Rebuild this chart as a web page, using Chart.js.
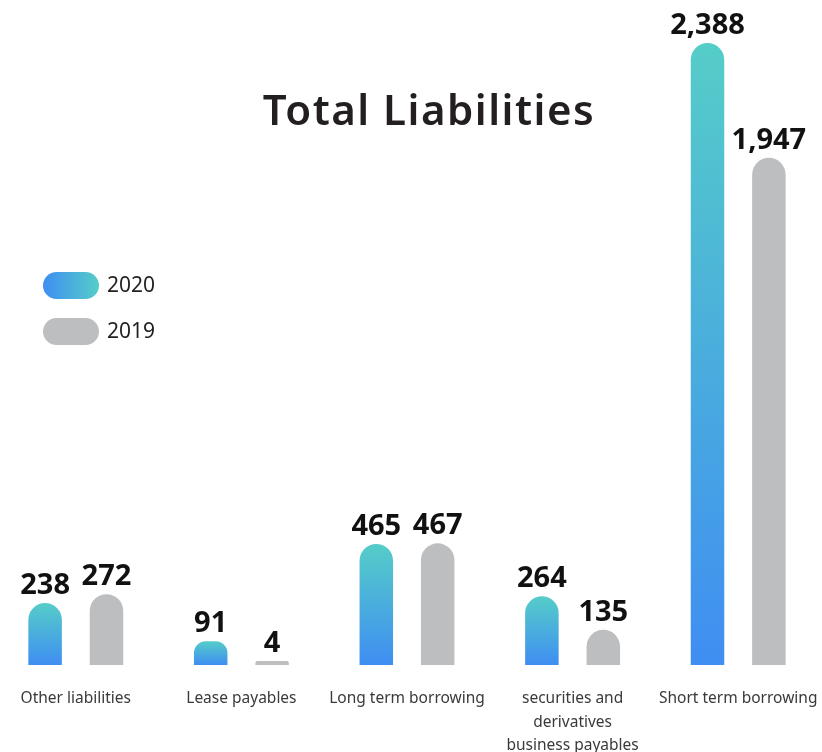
<!DOCTYPE html>
<html>
<head>
<meta charset="utf-8">
<script src="https://cdn.jsdelivr.net/npm/chart.js@4.4.0/dist/chart.umd.min.js"></script>
<style>
  html, body { margin: 0; padding: 0; background: #ffffff; overflow: hidden; width: 822px; height: 752px; }
  #wrap { position: absolute; left: -7px; top: 0; width: 828px; height: 752px; }
</style>
</head>
<body>
<div id="wrap"><canvas id="c" width="828" height="752"></canvas></div>
<script>
const chartTitle = "Total Liabilities";
const categories = [
  ["Other liabilities"],
  ["Lease payables"],
  ["Long term borrowing"],
  ["securities and", "derivatives", "business payables"],
  ["Short term borrowing"]
];
const seriesNames = ["2020", "2019"];
const values2020 = [238, 91, 465, 264, 2388];
const values2019 = [272, 4, 467, 135, 1947];

const OFFSET = 7; // canvas shifted left by 7px
const BLUE = "#3f8ef2";
const TEAL = "#55cdc8";
const GRAY = "#bdbec0";

function barGradient(ctx) {
  const chart = ctx.chart;
  if (!chart.chartArea || !chart.scales.y || ctx.raw === undefined) return BLUE;
  const y = chart.scales.y;
  const top = y.getPixelForValue(ctx.raw);
  const bottom = y.getPixelForValue(0);
  if (!isFinite(top) || !isFinite(bottom) || top === bottom) return BLUE;
  const g = chart.ctx.createLinearGradient(0, bottom, 0, top);
  g.addColorStop(0, BLUE);
  g.addColorStop(1, TEAL);
  return g;
}

const overlayPlugin = {
  id: "overlay",
  afterDatasetsDraw(chart) {
    const ctx = chart.ctx;
    ctx.save();
    // value labels
    ctx.fillStyle = "#111111";
    ctx.font = "bold 29px 'Noto Sans', 'DejaVu Sans', sans-serif";
    ctx.textAlign = "center";
    ctx.textBaseline = "alphabetic";
    chart.data.datasets.forEach((ds, di) => {
      const meta = chart.getDatasetMeta(di);
      meta.data.forEach((el, i) => {
        const v = ds.data[i];
        ctx.fillText(v.toLocaleString("en-US"), el.x, el.y - 9);
      });
    });
    // title
    ctx.fillStyle = "#231f20";
    ctx.font = "600 42px 'Noto Sans', sans-serif";
    ctx.textAlign = "center";
    try { ctx.letterSpacing = "1.5px"; } catch (e) {}
    ctx.fillText(chartTitle, 429 + OFFSET, 125);
    try { ctx.letterSpacing = "0px"; } catch (e) {}
    // legend
    const items = [
      { label: seriesNames[0], y: 272, grad: true },
      { label: seriesNames[1], y: 318, grad: false }
    ];
    items.forEach(it => {
      const x = 43 + OFFSET, w = 56, h = 27;
      let fill;
      if (it.grad) {
        fill = ctx.createLinearGradient(x, 0, x + w, 0);
        fill.addColorStop(0, BLUE);
        fill.addColorStop(1, TEAL);
      } else fill = GRAY;
      ctx.fillStyle = fill;
      ctx.beginPath();
      ctx.roundRect(x, it.y, w, h, h / 2);
      ctx.fill();
      ctx.fillStyle = "#231f20";
      ctx.font = "21px 'Noto Sans', sans-serif";
      ctx.textAlign = "left";
      ctx.textBaseline = "middle";
      ctx.fillText(it.label, 107 + OFFSET, it.y + h / 2 + 1);
    });
    ctx.restore();
  }
};

new Chart(document.getElementById("c"), {
  type: "bar",
  data: {
    labels: categories,
    datasets: [
      {
        label: seriesNames[0],
        data: values2020,
        backgroundColor: barGradient,
        borderRadius: { topLeft: 17, topRight: 17, bottomLeft: 0, bottomRight: 0 },
        borderSkipped: "bottom",
        categoryPercentage: 0.7415,
        barPercentage: 0.5456
      },
      {
        label: seriesNames[1],
        data: values2019,
        backgroundColor: GRAY,
        borderRadius: { topLeft: 17, topRight: 17, bottomLeft: 0, bottomRight: 0 },
        borderSkipped: "bottom",
        minBarLength: 4,
        categoryPercentage: 0.7415,
        barPercentage: 0.5456
      }
    ]
  },
  options: {
    responsive: false,
    animation: false,
    layout: { padding: 0 },
    plugins: {
      legend: { display: false },
      title: { display: false },
      tooltip: { enabled: false }
    },
    scales: {
      x: {
        grid: { display: false, drawTicks: false },
        border: { display: false },
        ticks: {
          color: "#3a3a3a",
          font: { family: "'Noto Sans', sans-serif", size: 15.5, lineHeight: 1.52 },
          padding: 22,
          maxRotation: 0,
          autoSkip: false
        },
        afterFit(scale) {
          scale.height = 87;
          scale.paddingLeft = 0;
          scale.paddingRight = 0;
        }
      },
      y: {
        display: false,
        min: 0,
        max: 2553
      }
    }
  },
  plugins: [overlayPlugin]
});
</script>
</body>
</html>
